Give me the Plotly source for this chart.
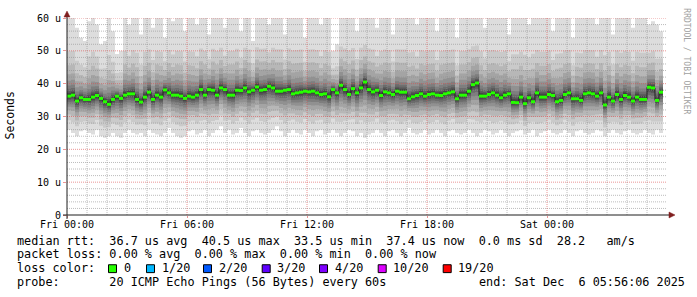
import plotly.graph_objects as go
from datetime import datetime, timedelta

# ---------------- data ----------------
# median RTT per 12-minute column, in microseconds
median_rtt = [
    36.2, 36.5, 34.7, 35.7, 35.2, 35.2, 35.9, 36.4, 35.5, 34.5,
    33.7, 35.2, 36.2, 35.5, 36.5, 36.9, 36.9, 35.2, 34.4, 35.9,
    37.4, 35.2, 36.5, 35.9, 38.1, 37.2, 36.5, 36.5, 36.2, 35.5,
    36.2, 35.9, 36.5, 38.2, 36.5, 38.2,
    38.0, 36.5, 38.7, 38.2, 36.5, 36.5, 38.0, 37.9, 38.7, 37.5,
    38.0, 39.0, 38.0, 38.2, 39.2, 38.7, 37.7, 37.7, 38.0, 38.2,
    36.9, 37.2, 37.4, 37.7, 37.5, 37.7, 37.2, 36.7, 36.9, 36.0,
    38.2, 37.2, 39.5, 38.2, 36.7, 38.5, 37.2, 38.7,
    40.5, 38.2, 37.5, 38.0, 36.4, 37.5, 37.2, 36.7, 37.7, 37.4,
    37.4, 35.4, 36.0, 36.4, 36.9, 36.2, 36.7, 36.9, 36.5, 36.4,
    36.9, 37.2, 37.5, 35.4, 36.5, 36.5, 37.7, 39.7, 40.2, 36.2,
    36.2, 36.7, 37.2, 36.5, 35.7, 36.5, 36.9,
    34.3, 34.2, 35.9, 33.9, 35.7, 34.5, 37.2, 35.9, 35.9, 36.7,
    36.4, 34.5, 34.9, 36.7, 37.2, 35.4, 35.4, 34.9, 36.9, 37.2,
    36.9, 36.2, 37.2, 33.5, 35.9, 34.7, 36.7, 35.2, 36.4, 35.9,
    34.7, 35.9, 35.2, 35.2, 38.9, 38.7, 34.9, 37.4,
]
# slowest ping of each column (top of the smoke, clipped at 60)
smoke_top = [
    61, 61, 57, 54, 53, 59, 61, 58, 52, 53,
    61, 56, 49, 50, 61, 58, 61, 61, 55, 61,
    61, 57, 61, 61, 54, 61, 59, 61, 61, 56,
    61, 61, 58, 61, 61, 55, 61, 61, 61, 57,
    61, 61, 61, 56, 61, 61, 53, 61, 61, 61,
    58, 61, 61, 61, 55, 61, 61, 61, 61, 54,
    61, 61, 61, 58, 61, 61, 50, 52, 61, 61,
    61, 61, 56, 61, 61, 61, 61, 57, 61, 61,
    61, 55, 61, 61, 61, 61, 61, 58, 61, 61,
    61, 61, 56, 61, 61, 61, 61, 54, 61, 61,
    61, 61, 61, 61, 57, 61, 61, 61, 61, 61,
    55, 61, 61, 61, 61, 58, 61, 61, 61, 61,
    61, 56, 61, 61, 61, 61, 54, 61, 61, 61,
    61, 61, 58, 61, 61, 61, 55, 61, 61, 61,
    61, 57, 61, 61, 61, 58, 59, 58, 56,
]
# fastest ping of each column (bottom of the smoke)
smoke_bottom = [
    26, 25, 24, 25.5, 26, 25, 24.5, 26, 24, 23.5,
    24, 25, 24, 23.5, 25, 26, 25, 24.5, 25, 24,
    26, 25, 24.5, 24, 25, 26.5, 25, 24, 23.5, 24,
    25.5, 26, 24.5, 25, 26, 24, 25, 26, 27, 25,
    26, 24.5, 25, 26.5, 25, 24, 25.5, 26, 25, 24.5,
    25, 26, 27, 25.5, 24, 25, 26, 25, 24.5, 26,
    25, 24, 25.5, 26, 24.5, 25, 26, 25, 24, 25,
    26, 25.5, 24, 25, 23.5, 24.5, 25, 26, 25, 24,
    25.5, 26, 25, 24, 25, 26.5, 25, 24.5, 25, 26,
    24.5, 25, 26, 25, 24, 25.5, 26, 25, 24.5, 25,
    26, 25, 24, 25, 26, 25.5, 24.5, 25, 26, 25,
    24, 25, 25.5, 26, 24.5, 25, 26, 24, 25, 25.5,
    26, 25, 24.5, 25, 26, 25, 24, 25.5, 26, 25,
    24.5, 25, 26, 25.5, 24, 25, 26, 25, 24.5, 25.5,
    26, 25, 24.5, 25, 26, 25, 24.5, 26, 25,
]
# where the sorted pings sit between median and slowest / fastest ping (10 smoke bands)
upper_profile = [1.0, 0.55, 0.38, 0.27, 0.19, 0.13, 0.09, 0.06, 0.04, 0.02]
lower_profile = [1.0, 0.72, 0.55, 0.42, 0.32, 0.24, 0.17, 0.11, 0.07, 0.035]

y_tick_values = [0, 10, 20, 30, 40, 50, 60]
y_tick_labels = ["0", "10 u", "20 u", "30 u", "40 u", "50 u", "60 u"]
x_tick_hours = [0, 6, 12, 18, 24]
x_tick_labels = ["Fri 00:00", "Fri 06:00", "Fri 12:00", "Fri 18:00", "Sat 00:00"]

loss_labels = ["0", "1/20", "2/20", "3/20", "4/20", "10/20", "19/20"]
loss_colors = ["#26ff00", "#00b8ff", "#0059ff", "#5e00ff", "#7e00ff", "#dd00ff", "#ff0000"]

legend_lines = [
    "median rtt:  36.7 us avg  40.5 us max  33.5 us min  37.4 us now  0.0 ms sd  28.2   am/s",
    "packet loss: 0.00 % avg  0.00 % max  0.00 % min  0.00 % now",
    "loss color:",
    "probe:       20 ICMP Echo Pings (56 Bytes) every 60s",
]
end_text = "end: Sat Dec  6 05:56:06 2025"

# ---------------- styles ----------------
band_colors = ["#dddddd", "#cacaca", "#b7b7b7", "#a4a4a4", "#919191",
               "#7e7e7e", "#6b6b6b", "#585858", "#454545", "#323232"]
MONO = "DejaVu Sans Mono"
W, H = 697, 297
L, R, T, B = 67, 30, 15, 82
PW, PH = W - L - R, H - T - B

def px(x):
    return (x - L) / PW

def py(y):
    return (T + PH - y) / PH

start = datetime(2025, 12, 5, 0, 0)
step = timedelta(minutes=12)
N = len(median_rtt)

def iso(t):
    return t.strftime("%Y-%m-%d %H:%M:%S")

edges = [iso(start + k * step) for k in range(N + 1)]
x_end = start + timedelta(hours=30)

fig = go.Figure()

# smoke bands, outermost first
for i in range(10):
    hi = [m + upper_profile[i] * (t - m) for m, t in zip(median_rtt, smoke_top)]
    lo = [m - lower_profile[i] * (m - b) for m, b in zip(median_rtt, smoke_bottom)]
    hi.append(hi[-1])
    lo.append(lo[-1])
    fig.add_trace(go.Scatter(x=edges, y=lo, mode="lines", line=dict(width=0, shape="hv"),
                             hoverinfo="skip", showlegend=False))
    fig.add_trace(go.Scatter(x=edges, y=hi, mode="lines", line=dict(width=0, shape="hv"),
                             fill="tonexty", fillcolor=band_colors[i],
                             hoverinfo="skip", showlegend=False))

# grid on top of the smoke (rrdtool style)
def vlines(hours):
    xs, ys = [], []
    for h in hours:
        t = iso(start + timedelta(hours=h))
        xs += [t, t, None]
        ys += [0, 60, None]
    return xs, ys

def hlines(vals):
    xs, ys = [], []
    for v in vals:
        xs += [iso(start), iso(x_end), None]
        ys += [v, v, None]
    return xs, ys

minor_grid = "rgba(143,143,143,0.6)"
major_grid = "rgba(222,79,79,0.6)"
for xs, ys, col in [
    (*vlines([h for h in range(1, 30) if h % 6]), minor_grid),
    (*hlines([v for v in range(2, 60, 2) if v % 10]), minor_grid),
    (*vlines([h for h in x_tick_hours if h > 0]), major_grid),
    (*hlines([v for v in y_tick_values if v > 0]), major_grid),
]:
    fig.add_trace(go.Scatter(x=xs, y=ys, mode="lines",
                             line=dict(color=col, width=1, dash="1px,1px"),
                             hoverinfo="skip", showlegend=False))

# median: thin dark step line + thick loss-coloured segments
fig.add_trace(go.Scatter(x=edges, y=median_rtt + [median_rtt[-1]], mode="lines",
                         line=dict(color="#202020", width=1, shape="hv"),
                         hoverinfo="skip", showlegend=False))
gx, gy = [], []
for k, m in enumerate(median_rtt):
    gx += [edges[k], edges[k + 1], None]
    gy += [m, m, None]
fig.add_trace(go.Scatter(x=gx, y=gy, mode="lines",
                         line=dict(color=loss_colors[0], width=3),
                         hoverinfo="skip", showlegend=False))

fig.update_layout(
    width=W, height=H,
    margin=dict(l=L, r=R, t=T, b=B),
    paper_bgcolor="white", plot_bgcolor="white",
    showlegend=False,
    font=dict(family=MONO, color="black"),
    xaxis=dict(
        type="date", range=[iso(start), iso(x_end)],
        tickvals=[iso(start + timedelta(hours=h)) for h in x_tick_hours],
        ticktext=x_tick_labels,
        showgrid=False, zeroline=False, showline=False,
        ticks="outside", ticklen=2, tickcolor=major_grid,
        ticklabelstandoff=-2,
        tickfont=dict(family=MONO, size=10, color="black"),
    ),
    yaxis=dict(
        range=[0, 60], tickvals=y_tick_values, ticktext=y_tick_labels,
        showgrid=False, zeroline=False, showline=False,
        ticks="outside", ticklen=3, tickcolor=major_grid,
        tickfont=dict(family=MONO, size=10, color="black"),
    ),
)

# axes and arrows
axis_col = "#1f1f1f"
arrow_col = "#801f1f"
shapes = [
    dict(type="line", xref="paper", yref="paper", x0=px(67), x1=px(67), y0=py(219), y1=py(12),
         line=dict(color=axis_col, width=1)),
    dict(type="line", xref="paper", yref="paper", x0=px(63), x1=px(670), y0=py(215), y1=py(215),
         line=dict(color=axis_col, width=1)),
    dict(type="path", xref="paper", yref="paper",
         path=f"M {px(64)} {py(14)} L {px(70)} {py(14)} L {px(67)} {py(8)} Z",
         fillcolor=arrow_col, line=dict(color=arrow_col, width=0.5)),
    dict(type="path", xref="paper", yref="paper",
         path=f"M {px(669)} {py(212)} L {px(669)} {py(218)} L {px(675)} {py(215)} Z",
         fillcolor=arrow_col, line=dict(color=arrow_col, width=0.5)),
]
sq_x = [108, 146, 203, 261.7, 319, 377.7, 442.7]
for sx, col in zip(sq_x, loss_colors):
    shapes.append(dict(type="rect", xref="paper", yref="paper",
                       x0=px(sx + 0.5), x1=px(sx + 8.5), y0=py(273.5), y1=py(265.5),
                       fillcolor=col, line=dict(color="black", width=1)))
fig.update_layout(shapes=shapes)

nb = lambda s: s.replace(" ", "\u00a0")
ann = []
row_y = [241, 255, 269, 283]
for txt, yy in zip(legend_lines, row_y):
    ann.append(dict(text=nb(txt), xref="paper", yref="paper", x=px(15), y=py(yy),
                    xanchor="left", yanchor="middle", showarrow=False,
                    font=dict(family=MONO, size=11.8, color="black")))
for sx, lab in zip(sq_x, loss_labels):
    ann.append(dict(text=lab, xref="paper", yref="paper", x=px(sx + 13.5), y=py(269),
                    xanchor="left", yanchor="middle", showarrow=False,
                    font=dict(family=MONO, size=11.8, color="black")))
ann.append(dict(text=nb(end_text), xref="paper", yref="paper", x=px(477), y=py(283),
                xanchor="left", yanchor="middle", showarrow=False,
                font=dict(family=MONO, size=11.8, color="black")))
ann.append(dict(text="Seconds", xref="paper", yref="paper", x=px(10), y=py(114),
                xanchor="center", yanchor="middle", textangle=-90, showarrow=False,
                font=dict(family=MONO, size=11.5, color="black")))
ann.append(dict(text=nb("RRDTOOL / TOBI OETIKER"), xref="paper", yref="paper",
                x=px(687), y=py(59), xanchor="center", yanchor="middle", textangle=90,
                showarrow=False, font=dict(family=MONO, size=8, color="#a0a0a0")))
fig.update_layout(annotations=ann)

fig.write_html("out.html")
